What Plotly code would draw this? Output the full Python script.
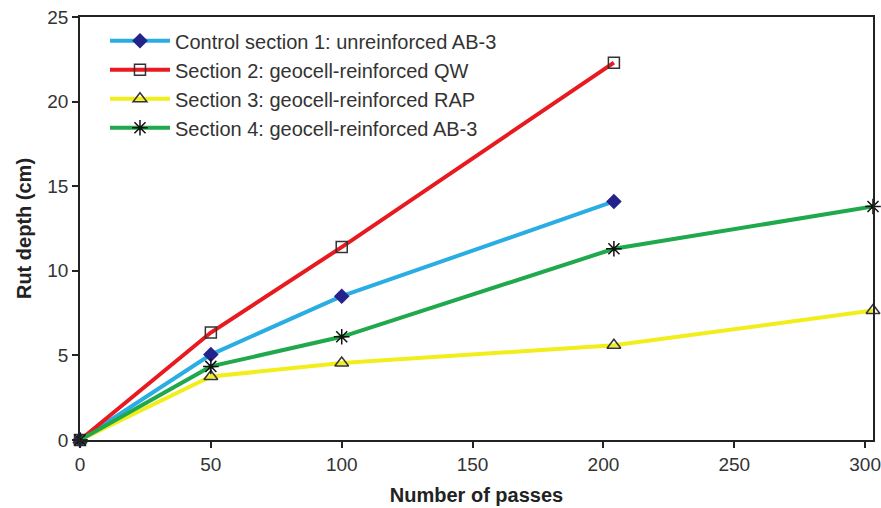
import plotly.graph_objects as go

passes_short = [0, 50, 100, 204]
passes_long = [0, 50, 100, 204, 303]
control1 = [0, 5.05, 8.5, 14.1]
section2 = [0, 6.35, 11.4, 22.3]
section3 = [0, 3.75, 4.55, 5.6, 7.65]
section4 = [0, 4.35, 6.1, 11.3, 13.8]

names = [
    "Control section 1: unreinforced AB-3",
    "Section 2: geocell-reinforced QW",
    "Section 3: geocell-reinforced RAP",
    "Section 4: geocell-reinforced AB-3",
]

FONT = "Liberation Sans, Arial, sans-serif"

fig = go.Figure()
fig.add_trace(go.Scatter(
    x=passes_short, y=control1, name=names[0], mode="lines+markers",
    line=dict(color="#2AADE3", width=4),
    marker=dict(symbol="diamond", size=12, color="#23238C", line=dict(width=0)),
    cliponaxis=False))
fig.add_trace(go.Scatter(
    x=passes_short, y=section2, name=names[1], mode="lines+markers",
    line=dict(color="#E8191F", width=4),
    marker=dict(symbol="square-open", size=11, color="#333333", line=dict(width=1.5)),
    cliponaxis=False))
fig.add_trace(go.Scatter(
    x=passes_long, y=section3, name=names[2], mode="lines+markers",
    line=dict(color="#F2EE1C", width=4),
    marker=dict(symbol="triangle-up-open", size=12, color="#333333", line=dict(width=1.5)),
    cliponaxis=False))
fig.add_trace(go.Scatter(
    x=passes_long, y=section4, name=names[3], mode="lines+markers",
    line=dict(color="#1FA84C", width=4),
    marker=dict(symbol="asterisk-open", size=13, color="#111111", line=dict(width=1.5)),
    cliponaxis=False))

axis_common = dict(
    showline=True, linecolor="#222222", linewidth=1.5, mirror=True,
    ticks="outside", ticklen=6, tickcolor="#222222", tickwidth=1.5,
    showgrid=False, zeroline=False, automargin=False,
    ticklabeloverflow="allow",
    tickfont=dict(family=FONT, size=19, color="#333333"),
)

fig.update_layout(
    width=881, height=508,
    margin=dict(l=80, r=8, t=17, b=68),
    paper_bgcolor="white", plot_bgcolor="white",
    xaxis=dict(range=[0, 303], tickvals=[0, 50, 100, 150, 200, 250, 300],
               title=dict(text="<b>Number of passes</b>", standoff=14,
                          font=dict(family=FONT, size=20, color="#222222")),
               **axis_common),
    yaxis=dict(range=[0, 25], tickvals=[0, 5, 10, 15, 20, 25],
               title=dict(text="<b>Rut depth (cm)</b>", standoff=10,
                          font=dict(family=FONT, size=20, color="#222222")),
               **axis_common),
    legend=dict(x=0.0315, y=0.99, xanchor="left", yanchor="top",
                bgcolor="rgba(0,0,0,0)", itemwidth=60, tracegroupgap=0,
                font=dict(family=FONT, size=20, color="#333333")),
    showlegend=True,
)

fig.write_html("out.html",
               config={"displayModeBar": False},
               post_script="document.body.style.margin='0';document.body.style.overflow='hidden';")
